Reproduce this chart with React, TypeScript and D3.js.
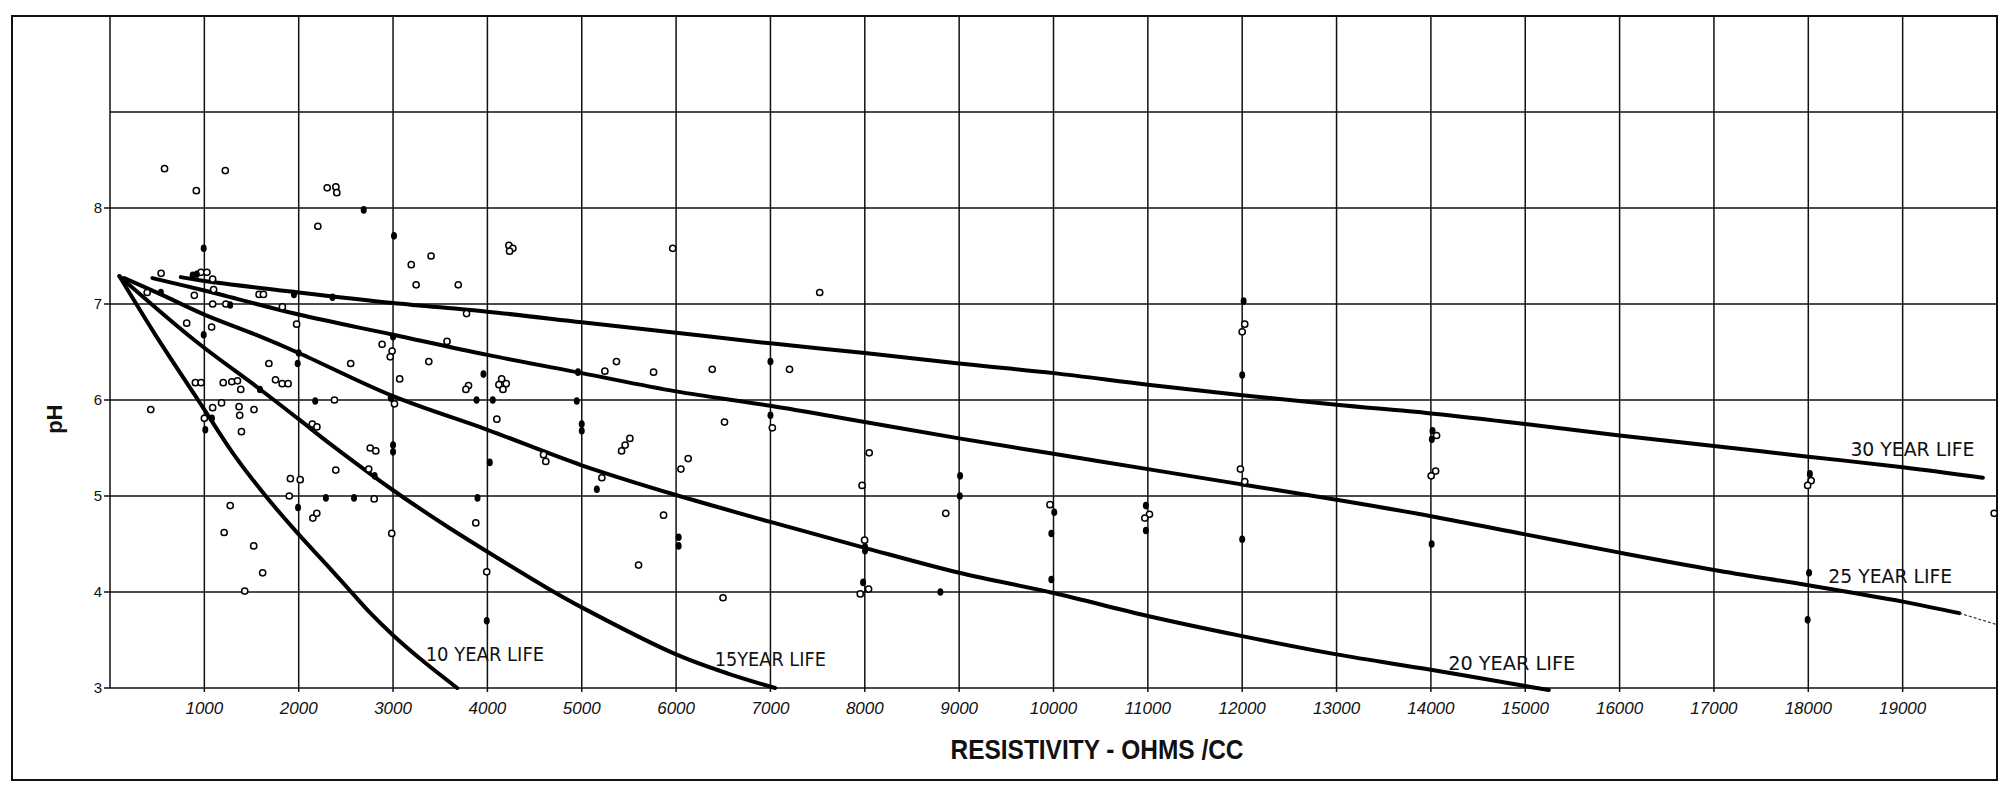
import React from 'react';
import * as d3 from 'd3';

// ---------- data ----------
const xTickValues = [1000, 2000, 3000, 4000, 5000, 6000, 7000, 8000, 9000, 10000, 11000, 12000, 13000, 14000, 15000, 16000, 17000, 18000, 19000];
const yTickValues = [3, 4, 5, 6, 7, 8];

// open circles: [resistivity ohms/cc, pH]
const openCircles: [number, number][] = [
  [578, 8.41], [1222, 8.39], [915, 8.18], [2302, 8.21], [2394, 8.22], [2404, 8.16], [2203, 7.81],
  [542, 7.32], [964, 7.33], [1027, 7.33], [1088, 7.26], [394, 7.12], [894, 7.09], [1098, 7.15], [1088, 7.0], [1228, 7.0],
  [1580, 7.10], [1626, 7.10], [1827, 6.97], [1978, 6.79], [813, 6.80], [1077, 6.76],
  [2884, 6.58], [2990, 6.51], [2970, 6.45], [1684, 6.38], [2551, 6.38], [905, 6.18], [965, 6.18], [1200, 6.18], [1291, 6.19],
  [1351, 6.20], [1386, 6.11], [1754, 6.21], [1825, 6.17], [1888, 6.17], [432, 5.90], [1088, 5.92], [1182, 5.97], [1368, 5.93],
  [1375, 5.84], [1526, 5.90], [1393, 5.67], [1000, 5.81], [2379, 6.0], [3015, 5.96], [2144, 5.75], [2193, 5.72], [2758, 5.50],
  [2817, 5.47], [2393, 5.27], [2742, 5.28], [1912, 5.18], [2016, 5.17], [1900, 5.0], [2800, 4.97], [1274, 4.90], [2150, 4.77],
  [2192, 4.82], [1210, 4.62],
  [1523, 4.48], [1618, 4.20], [1428, 4.01], [2986, 4.61],
  [3403, 7.50], [3193, 7.41], [3245, 7.20], [3691, 7.20], [4228, 7.61], [4270, 7.58], [4235, 7.55], [5964, 7.58], [3779, 6.90],
  [3572, 6.61], [3379, 6.40], [3070, 6.22], [3800, 6.15], [3772, 6.11], [4151, 6.22], [4200, 6.17], [4122, 6.16], [4165, 6.11],
  [5368, 6.40], [5245, 6.30], [5761, 6.29], [4100, 5.80],
  [4595, 5.43], [4619, 5.36], [5422, 5.47], [5460, 5.53], [5510, 5.60], [5213, 5.19], [6128, 5.39], [6051, 5.28], [3877, 4.72],
  [5867, 4.80], [5602, 4.28], [3993, 4.21],
  [7522, 7.12], [6383, 6.32], [7202, 6.32], [6513, 5.77], [7020, 5.71], [8047, 5.45], [7971, 5.11], [8858, 4.82], [9963, 4.91],
  [11017, 4.81], [10968, 4.77], [11981, 5.28], [12027, 5.15], [12027, 6.79], [12000, 6.71], [7998, 4.54], [8040, 4.03],
  [7952, 3.98], [6497, 3.94],
  [14060, 5.63], [14050, 5.26], [14003, 5.21], [18030, 5.16], [17993, 5.11], [19970, 4.82],
];

// solid dots: [resistivity ohms/cc, pH]
const solidDots: [number, number][] = [
  [2689, 7.98], [3010, 7.71], [993, 7.58], [876, 7.30], [920, 7.31], [539, 7.12], [1274, 6.99], [1950, 7.10], [2358, 7.07],
  [993, 6.68], [3000, 6.66],
  [2000, 6.49], [1989, 6.38], [1589, 6.11], [1010, 5.69], [1081, 5.81], [2175, 5.99], [2975, 6.02], [3000, 5.53], [3000, 5.46],
  [2805, 5.21], [1993, 4.88], [2288, 4.98], [2586, 4.98],
  [3958, 6.27], [3885, 6.0], [4057, 6.0], [4947, 5.99], [4960, 6.29],
  [4025, 5.35], [5000, 5.75], [5000, 5.68], [5160, 5.07], [3895, 4.98], [6027, 4.57], [6027, 4.48], [3993, 3.70],
  [7000, 6.40], [7000, 5.84], [9010, 5.21], [9007, 5.0], [10008, 4.83], [9977, 4.61], [9977, 4.13], [10979, 4.90],
  [10979, 4.64], [12015, 7.03], [12000, 6.26], [12000, 4.55], [8002, 4.47], [8002, 4.43], [7982, 4.10], [8801, 4.0],
  [14017, 5.68], [14010, 5.59], [14008, 4.50], [18017, 5.23], [18008, 4.20], [17993, 3.71],
];

// life curves: [resistivity, pH]
const life10: [number, number][] = [[100, 7.29], [500, 6.65], [900, 6.05], [1000, 5.90], [1300, 5.45], [1650, 5.0], [2000, 4.60], [2300, 4.28], [2520, 4.04], [2750, 3.79], [3000, 3.55], [3330, 3.27], [3680, 3.0]];
const life15: [number, number][] = [[100, 7.29], [900, 6.62], [1579, 6.12], [2000, 5.80], [2351, 5.53], [3000, 5.06], [3577, 4.68], [4000, 4.42], [4637, 4.04], [5000, 3.84], [6000, 3.35], [6550, 3.15], [7050, 3.0]];
const life20: [number, number][] = [[150, 7.27], [540, 7.10], [1000, 6.89], [1544, 6.68], [2000, 6.49], [3000, 6.04], [4000, 5.69], [5000, 5.32], [6000, 5.01], [7000, 4.73], [8000, 4.46], [9000, 4.20], [10000, 3.99], [11000, 3.75], [12000, 3.54], [13000, 3.35], [14000, 3.19], [15000, 3.02], [15250, 2.98]];
const life25: [number, number][] = [[450, 7.27], [1000, 7.14], [2000, 6.89], [3000, 6.68], [4000, 6.47], [5000, 6.28], [6000, 6.09], [7000, 5.94], [8000, 5.77], [9000, 5.60], [10000, 5.44], [11000, 5.28], [12000, 5.12], [13000, 4.96], [14000, 4.79], [15000, 4.60], [16000, 4.41], [17000, 4.23], [18000, 4.07], [19000, 3.90], [19600, 3.78]];
const life25Tail: [number, number][] = [[19600, 3.78], [20000, 3.66]];
const life30: [number, number][] = [[750, 7.28], [1000, 7.24], [2000, 7.12], [3000, 7.01], [4000, 6.92], [5000, 6.81], [6000, 6.70], [7000, 6.59], [8000, 6.49], [9000, 6.38], [10000, 6.28], [11000, 6.16], [12000, 6.05], [13000, 5.95], [14000, 5.86], [15000, 5.75], [16000, 5.63], [17000, 5.52], [18000, 5.41], [19000, 5.30], [19850, 5.19]];

const lifeNames = ['10 YEAR LIFE', '15YEAR LIFE', '20 YEAR LIFE', '25 YEAR LIFE', '30 YEAR LIFE'];
const lifeLabelFrom = [3346, 6409, 14183, 18211, 18446];
const lifeLabelTo = [4601, 7587, 15529, 19526, 19761];
const lifeLabelPH = [3.28, 3.23, 3.19, 4.09, 5.42];

const xTitle = 'RESISTIVITY - OHMS /CC';
const yTitle = 'pH';

export default function App() {
  const x = d3.scaleLinear().domain([0, 20000]).range([110, 1997]);
  const y = d3.scaleLinear().domain([3, 10]).range([688, 16]);
  const line = d3
    .line<[number, number]>()
    .x((d) => x(d[0]))
    .y((d) => y(d[1]))
    .curve(d3.curveCatmullRom.alpha(0.5));

  const vGrid = d3.range(0, 20001, 1000);
  const hGrid = d3.range(3, 10.001, 1);
  const curves = [life10, life15, life20, life25, life30];
  const ink = '#111';

  return (
    <svg
      width={2004}
      height={796}
      style={{ position: 'absolute', left: 0, top: 0, display: 'block', background: '#fff' }}
    >
      <rect x={0} y={0} width={2004} height={796} fill="#fff" />
      {/* outer frame */}
      <rect x={12} y={y(10)} width={x(20000) - 12} height={780 - y(10)} fill="none" stroke={ink} strokeWidth={2} />

      {/* grid */}
      {vGrid.map((v) => (
        <line key={'v' + v} x1={x(v)} x2={x(v)} y1={y(10)} y2={y(3) + (v > 0 && v < 20000 ? 4 : 0)} stroke={ink} strokeWidth={1.5} />
      ))}
      {hGrid.map((p) => (
        <line key={'h' + p} x1={x(0) - (p <= 8 ? 6 : 0)} x2={x(20000)} y1={y(p)} y2={y(p)} stroke={ink} strokeWidth={1.5} />
      ))}

      {/* y tick labels */}
      {yTickValues.map((p) => (
        <text key={'yt' + p} x={x(0) - 8} y={y(p)} dy="0.36em" textAnchor="end" fontFamily="Liberation Sans, Arial, sans-serif" fontSize={15} fill={ink}>
          {p}
        </text>
      ))}
      {/* x tick labels */}
      {xTickValues.map((v) => (
        <text key={'xt' + v} x={x(v)} y={y(3) + 25.5} textAnchor="middle" fontFamily="Liberation Sans, Arial, sans-serif" fontStyle="italic" fontSize={17} fill={ink}>
          {String(v)}
        </text>
      ))}

      {/* axis titles */}
      <text x={1097} y={759} textAnchor="middle" fontFamily="Liberation Sans, Arial, sans-serif" fontWeight="bold" fontSize={28} textLength={293} lengthAdjust="spacingAndGlyphs" fill={ink}>
        {xTitle}
      </text>
      <text transform={`translate(62, ${y(5.8)}) rotate(-90)`} textAnchor="middle" fontFamily="Liberation Sans, Arial, sans-serif" fontWeight="bold" fontSize={22} fill={ink}>
        {yTitle}
      </text>

      {/* life curves */}
      {curves.map((c, i) => (
        <path key={'c' + i} d={line(c) || ''} fill="none" stroke="#000" strokeWidth={4} strokeLinecap="round" strokeLinejoin="round" />
      ))}
      <path d={line(life25Tail) || ''} fill="none" stroke="#333" strokeWidth={1.2} strokeDasharray="3 2" />

      {/* curve labels */}
      {lifeNames.map((n, i) => (
        <text
          key={'ln' + i}
          x={x(lifeLabelFrom[i])}
          y={y(lifeLabelPH[i])}
          fontFamily="DejaVu Sans, sans-serif"
          fontSize={20}
          textLength={x(lifeLabelTo[i]) - x(lifeLabelFrom[i])}
          lengthAdjust="spacingAndGlyphs"
          fill={ink}
        >
          {n}
        </text>
      ))}

      {/* data points */}
      {openCircles.map((d, i) => (
        <circle key={'o' + i} cx={x(d[0])} cy={y(d[1])} r={3.1} fill="#fff" stroke="#000" strokeWidth={1.5} />
      ))}
      {solidDots.map((d, i) => (
        <ellipse key={'s' + i} cx={x(d[0])} cy={y(d[1])} rx={3} ry={3.8} fill="#000" />
      ))}
    </svg>
  );
}
